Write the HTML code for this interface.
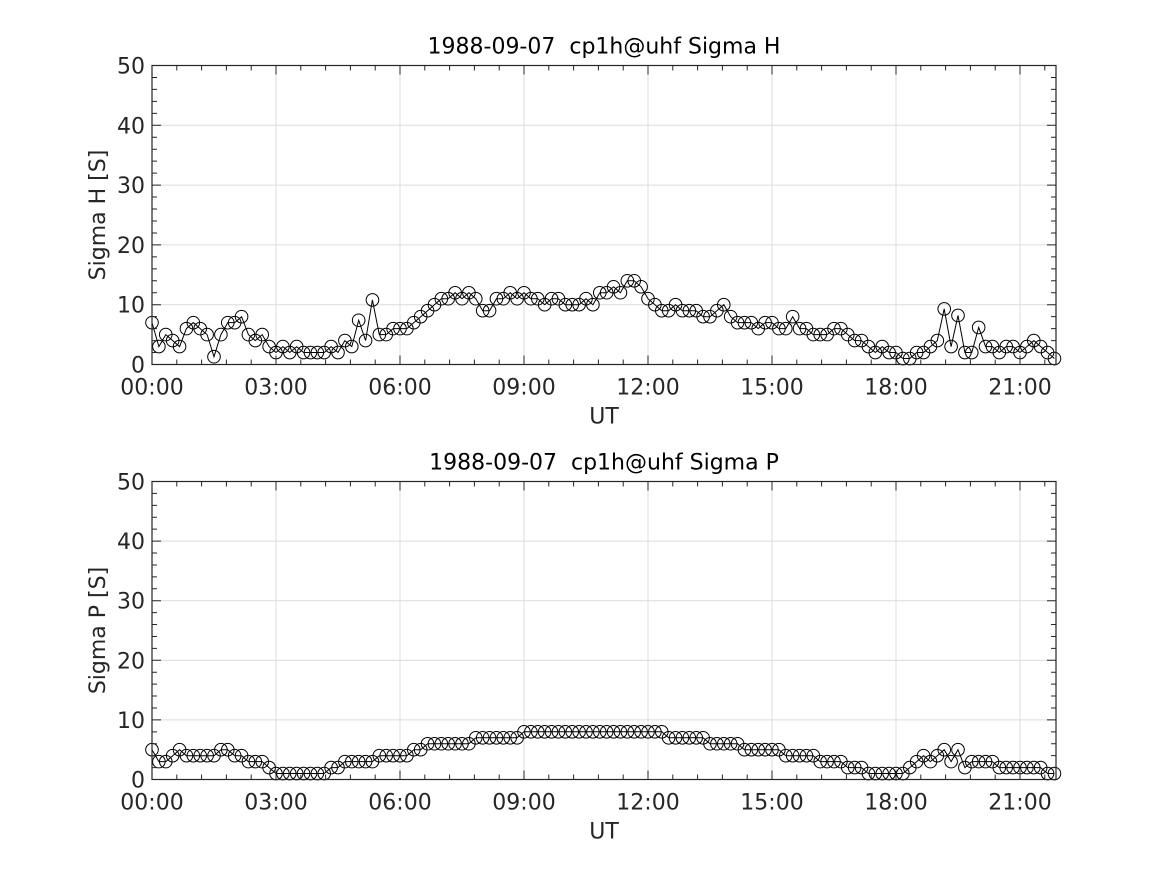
<!DOCTYPE html>
<html><head><meta charset="utf-8"><style>
html,body{margin:0;padding:0;background:#fff;}
svg text{font-family:"DejaVu Sans","Liberation Sans",sans-serif;fill:#262626;}
</style></head><body>
<svg id="chart" width="1167" height="875" xmlns="http://www.w3.org/2000/svg"></svg>
<script>
const sigmaH = [
7,3,5,4,3,6, 7,6,5,1.3,5,7, 7,8,5,4,5,3, 2,3,2,3,2,2, 2,2,3,2,4,3, 7.4,4,10.8,5,5,6,
6,6,7,8,9,10, 11,11,12,11,12,11, 9,9,11,11,12,11, 12,11,11,10,11,11, 10,10,10,11,10,12,
12,13,12,14,14,13, 11,10,9,9,10,9, 9,9,8,8,9,10, 8,7,7,7,6,7, 7,6,6,8,6,6, 5,5,5,6,6,5,
4,4,3,2,3,2, 2,1,1,2,2,3, 4,9.3,3,8.2,2,2, 6.2,3,3,2,3,3, 2,3,4,3,2,1];
const sigmaP = [
5,3,3,4,5,4, 4,4,4,4,5,5, 4,4,3,3,3,2, 1,1,1,1,1,1, 1,1,2,2,3,3, 3,3,3,4,4,4,
4,4,5,5,6,6, 6,6,6,6,6,7, 7,7,7,7,7,7, 8,8,8,8,8,8, 8,8,8,8,8,8, 8,8,8,8,8,8,
8,8,8,7,7,7, 7,7,7,6,6,6, 6,6,5,5,5,5, 5,5,4,4,4,4, 4,3,3,3,3,2, 2,2,1,1,1,1,
1,1,2,3,4,3, 4,5,3,5,2,3, 3,3,3,2,2,2, 2,2,2,2,1,1];
const timeStepHours = 1/6;
const xTickHours = [0,3,6,9,12,15,18,21];
const xTickLabels = ["00:00","03:00","06:00","09:00","12:00","15:00","18:00","21:00"];
const yTicks = [0,10,20,30,40,50];

const svg = document.getElementById('chart');
const NS = "http://www.w3.org/2000/svg";
function mk(tag, attrs, parent){const e=document.createElementNS(NS,tag);for(const k in attrs)e.setAttribute(k,attrs[k]);(parent||svg).appendChild(e);return e;}

function panel(cfg){
  const L=152,R=1056,T=cfg.top,B=cfg.bottom;
  const xMax=(R-L)/(124/3);
  const x=h=>L+h*(R-L)/xMax;
  const y=v=>B-v*(B-T)/50;
  const g=mk('g',{});
  
  
  xTickHours.forEach(h=>{const l=mk('line',{x1:x(h),x2:x(h),y1:T,y2:B,stroke:'#dcdcdc','stroke-width':1},g);});
  yTicks.forEach(v=>{const l=mk('line',{x1:L,x2:R,y1:y(v),y2:y(v),stroke:'#dcdcdc','stroke-width':1},g);});
  const pts=cfg.data.map((v,i)=>x(i*timeStepHours).toFixed(1)+','+y(v).toFixed(1)).join(' ');
  const pl=mk('polyline',{points:pts,fill:'none',stroke:'#000','stroke-width':1},g);
  
  
  cfg.data.forEach((v,i)=>{const c=mk('circle',{cx:x(i*timeStepHours),cy:y(v),r:6.3,fill:'none',stroke:'#000','stroke-width':1},g);
    
    });
  const bx=mk('rect',{x:L,y:T,width:R-L,height:B-T,fill:'none',stroke:'#262626','stroke-width':1.2},g);
  
  
  let d='';
  for(let h=0;h<=xMax+1e-6;h+=0.6){const major=Math.abs(h/3-Math.round(h/3))<1e-6;const len=major?9:5;const X=x(h);d+=`M${X},${B}v${-len}M${X},${T}v${len}`;}
  for(let v=0;v<=50;v+=2){const len=(v%10===0)?9:5;const Y=y(v);d+=`M${L},${Y}h${len}M${R},${Y}h${-len}`;}
  const tk=mk('path',{d:d,stroke:'#262626','stroke-width':1,fill:'none'},g);
  
  
  xTickHours.forEach((h,i)=>{const t=mk('text',{x:x(h),y:B+30,'text-anchor':'middle','font-size':22},g);t.textContent=xTickLabels[i];
    });
  yTicks.forEach(v=>{const t=mk('text',{x:L-7,y:y(v)+8,'text-anchor':'end','font-size':22},g);t.textContent=String(v);
    });
  const ti=mk('text',{x:(L+R)/2,y:T-12,'text-anchor':'middle','font-size':22,style:'white-space:pre;fill:#000'},g);ti.textContent=cfg.title;
  
  const xl=mk('text',{x:(L+R)/2,y:B+59,'text-anchor':'middle','font-size':22},g);xl.textContent='UT';
  
  const yl=mk('text',{x:0,y:0,'text-anchor':'middle','font-size':22,transform:`translate(105,${(T+B)/2}) rotate(-90)`},g);yl.textContent=cfg.ylabel;
  
}
panel({name:'sigma-h-panel',top:65.5,bottom:364.5,data:sigmaH,title:'1988-09-07  cp1h@uhf Sigma H',ylabel:'Sigma H [S]'});
panel({name:'sigma-p-panel',top:481.5,bottom:779.5,data:sigmaP,title:'1988-09-07  cp1h@uhf Sigma P',ylabel:'Sigma P [S]'});
</script>
</body></html>
